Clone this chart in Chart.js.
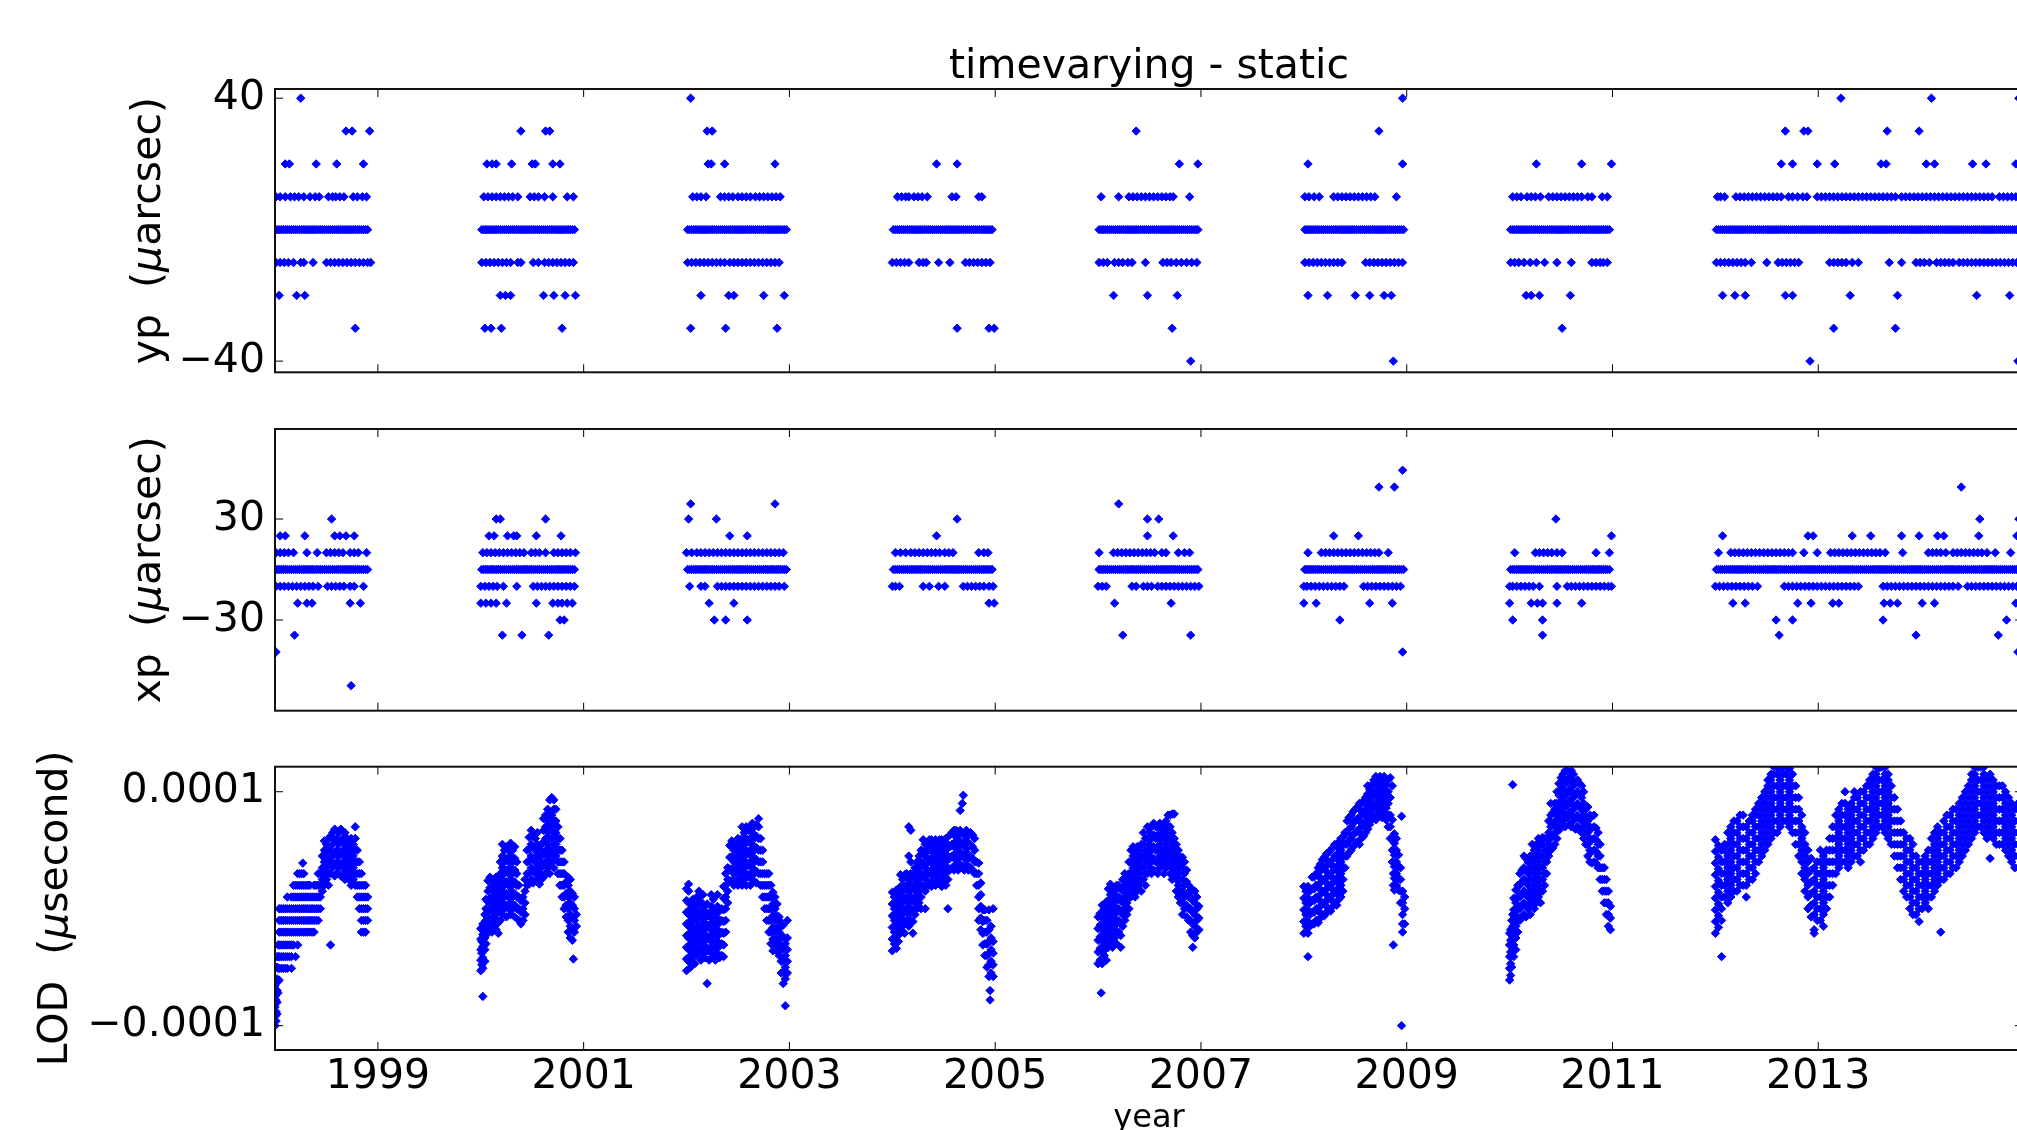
<!DOCTYPE html>
<html><head><meta charset="utf-8">
<script src="https://cdn.jsdelivr.net/npm/chart.js@4.4.1/dist/chart.umd.min.js"></script>
<style>
html,body{margin:0;padding:0;background:#fff;overflow:hidden;width:2017px;height:1130px;}
#wrap{position:relative;width:2017px;height:1130px;overflow:hidden;background:#fff;}
canvas{position:absolute;left:0;}
</style></head><body>
<div id="wrap">
<canvas id="cYp" width="2298" height="400" style="top:0px"></canvas>
<canvas id="cXp" width="2298" height="330" style="top:400px"></canvas>
<canvas id="cLod" width="2298" height="420" style="top:730px"></canvas>
</div>
<script>
// ---------------- DATA ----------------
const yearTicks = [1999, 2001, 2003, 2005, 2007, 2009, 2011, 2013];
const ypTicks = [-40, 40];
const xpTicks = [-30, 30];
const lodTicks = [-0.0001, 0.0001];

// observation epochs where yp and xp differences are 0 (the solid bars)
const zeroEpochs = [
1998.00,1998.02,1998.04,1998.06,1998.08,1998.10,1998.12,1998.14,1998.16,1998.18,1998.20,1998.22,1998.24,1998.26,1998.28,1998.30,1998.32,1998.34,1998.36,1998.38,1998.40,1998.42,1998.44,1998.46,1998.48,1998.50,1998.52,1998.54,1998.56,1998.58,1998.60,1998.62,1998.64,1998.66,1998.68,1998.70,1998.72,1998.74,1998.76,1998.78,1998.80,1998.82,1998.84,1998.86,1998.88,1998.90,
2000.01,2000.03,2000.05,2000.07,2000.09,2000.11,2000.13,2000.15,2000.17,2000.19,2000.21,2000.23,2000.25,2000.27,2000.29,2000.31,2000.33,2000.35,2000.37,2000.39,2000.41,2000.43,2000.45,2000.47,2000.49,2000.51,2000.53,2000.55,2000.57,2000.59,2000.61,2000.63,2000.65,2000.67,2000.69,2000.71,2000.73,2000.75,2000.77,2000.79,2000.81,2000.83,2000.85,2000.87,2000.89,2000.91,
2002.01,2002.03,2002.05,2002.07,2002.09,2002.11,2002.13,2002.15,2002.17,2002.19,2002.21,2002.23,2002.25,2002.27,2002.29,2002.31,2002.33,2002.35,2002.37,2002.39,2002.41,2002.43,2002.45,2002.47,2002.49,2002.51,2002.53,2002.55,2002.57,2002.59,2002.61,2002.63,2002.65,2002.67,2002.69,2002.71,2002.73,2002.75,2002.77,2002.79,2002.81,2002.83,2002.85,2002.87,2002.89,2002.91,2002.93,2002.95,2002.97,
2004.01,2004.03,2004.05,2004.07,2004.09,2004.11,2004.13,2004.15,2004.17,2004.19,2004.21,2004.23,2004.25,2004.27,2004.29,2004.31,2004.33,2004.35,2004.37,2004.39,2004.41,2004.43,2004.45,2004.47,2004.49,2004.51,2004.53,2004.55,2004.57,2004.59,2004.61,2004.63,2004.65,2004.67,2004.69,2004.71,2004.73,2004.75,2004.77,2004.79,2004.81,2004.83,2004.85,2004.87,2004.89,2004.91,2004.93,2004.95,2004.97,
2006.01,2006.03,2006.05,2006.07,2006.09,2006.11,2006.13,2006.15,2006.17,2006.19,2006.21,2006.23,2006.25,2006.27,2006.29,2006.31,2006.33,2006.35,2006.37,2006.39,2006.41,2006.43,2006.45,2006.47,2006.49,2006.51,2006.53,2006.55,2006.57,2006.59,2006.61,2006.63,2006.65,2006.67,2006.69,2006.71,2006.73,2006.75,2006.77,2006.79,2006.81,2006.83,2006.85,2006.87,2006.89,2006.91,2006.93,2006.95,2006.97,
2008.01,2008.03,2008.05,2008.07,2008.09,2008.11,2008.13,2008.15,2008.17,2008.19,2008.21,2008.23,2008.25,2008.27,2008.29,2008.31,2008.33,2008.35,2008.37,2008.39,2008.41,2008.43,2008.45,2008.47,2008.49,2008.51,2008.53,2008.55,2008.57,2008.59,2008.61,2008.63,2008.65,2008.67,2008.69,2008.71,2008.73,2008.75,2008.77,2008.79,2008.81,2008.83,2008.85,2008.87,2008.89,2008.91,2008.93,2008.95,2008.97,
2010.01,2010.03,2010.05,2010.07,2010.09,2010.11,2010.13,2010.15,2010.17,2010.19,2010.21,2010.23,2010.25,2010.27,2010.29,2010.31,2010.33,2010.35,2010.37,2010.39,2010.41,2010.43,2010.45,2010.47,2010.49,2010.51,2010.53,2010.55,2010.57,2010.59,2010.61,2010.63,2010.65,2010.67,2010.69,2010.71,2010.73,2010.75,2010.77,2010.79,2010.81,2010.83,2010.85,2010.87,2010.89,2010.91,2010.93,2010.95,2010.97,
2012.01,2012.03,2012.05,2012.07,2012.09,2012.11,2012.13,2012.15,2012.17,2012.19,2012.21,2012.23,2012.25,2012.27,2012.29,2012.31,2012.33,2012.35,2012.37,2012.39,2012.41,2012.43,2012.45,2012.47,2012.49,2012.51,2012.53,2012.55,2012.57,2012.59,2012.61,2012.63,2012.65,2012.67,2012.69,2012.71,2012.73,2012.75,2012.77,2012.79,2012.81,2012.83,2012.85,2012.87,2012.89,2012.91,2012.93,2012.95,2012.97,2012.99,
2013.01,2013.03,2013.05,2013.07,2013.09,2013.11,2013.13,2013.15,2013.17,2013.19,2013.21,2013.23,2013.25,2013.27,2013.29,2013.31,2013.33,2013.35,2013.37,2013.39,2013.41,2013.43,2013.45,2013.47,2013.49,2013.51,2013.53,2013.55,2013.57,2013.59,2013.61,2013.63,2013.65,2013.67,2013.69,2013.71,2013.73,2013.75,2013.77,2013.79,2013.81,2013.83,2013.85,2013.87,2013.89,2013.91,2013.93,2013.95,2013.97,2013.99,
2014.01,2014.03,2014.05,2014.07,2014.09,2014.11,2014.13,2014.15,2014.17,2014.19,2014.21,2014.23,2014.25,2014.27,2014.29,2014.31,2014.33,2014.35,2014.37,2014.39,2014.41,2014.43,2014.45,2014.47,2014.49,2014.51,2014.53,2014.55,2014.57,2014.59,2014.61,2014.63,2014.65,2014.67,2014.69,2014.71,2014.73,2014.75,2014.77,2014.79,2014.81,2014.83,2014.85,2014.87,2014.89,2014.91,2014.93,2014.95,2014.97,2014.99
];

// yp (µarcsec): epochs of the non-zero levels
const yp40 = [1998.25,2002.04,2008.96,2013.22,2014.10,2014.95];
const yp30 = [1998.69,1998.75,1998.92,2000.39,2000.63,2000.67,2002.20,2002.25,2006.37,2008.73,2012.68,2012.86,2012.90,2013.67,2013.98];
const yp20 = [1998.10,1998.14,1998.40,1998.60,1998.86,2000.06,2000.11,2000.15,2000.30,2000.50,2000.53,2000.70,2000.77,2002.21,2002.24,2002.37,2002.86,2004.43,2004.63,2006.79,2006.97,2008.04,2008.96,2010.26,2010.70,2010.99,2012.64,2012.75,2012.99,2013.16,2013.61,2013.66,2014.05,2014.13,2014.50,2014.63,2014.92];
const yp10 = [
1998.01,1998.05,1998.10,1998.15,1998.19,1998.23,1998.28,1998.34,1998.39,1998.43,1998.52,1998.56,1998.59,1998.63,1998.67,1998.76,1998.80,1998.85,1998.89,
2000.03,2000.07,2000.11,2000.15,2000.19,2000.23,2000.27,2000.31,2000.36,2000.48,2000.52,2000.56,2000.62,2000.70,2000.84,2000.90,
2002.06,2002.10,2002.14,2002.19,2002.33,2002.37,2002.41,2002.45,2002.50,2002.54,2002.58,2002.62,2002.67,2002.71,2002.75,2002.79,2002.83,2002.87,2002.91,
2004.05,2004.09,2004.13,2004.16,2004.21,2004.25,2004.29,2004.34,2004.58,2004.62,2004.84,2004.87,
2006.03,2006.20,2006.30,2006.34,2006.38,2006.42,2006.46,2006.50,2006.54,2006.58,2006.62,2006.66,2006.70,2006.73,2006.89,
2008.01,2008.05,2008.10,2008.15,2008.29,2008.33,2008.37,2008.41,2008.45,2008.49,2008.53,2008.57,2008.61,2008.65,2008.69,2008.90,
2010.03,2010.07,2010.11,2010.17,2010.21,2010.25,2010.30,2010.38,2010.42,2010.46,2010.50,2010.54,2010.58,2010.62,2010.66,2010.70,2010.76,2010.80,2010.90,2010.95,
2012.02,2012.05,2012.09,2012.20,2012.24,2012.28,2012.32,2012.36,2012.40,2012.44,2012.48,2012.52,2012.56,2012.60,2012.64,2012.71,2012.75,2012.80,2012.85,2012.89,2012.99,
2013.03,2013.07,2013.11,2013.15,2013.19,2013.23,2013.27,2013.31,2013.35,2013.39,2013.43,2013.47,2013.51,2013.55,2013.59,2013.63,2013.67,2013.71,2013.75,2013.81,2013.85,2013.89,2013.93,2013.97,
2014.01,2014.05,2014.09,2014.13,2014.17,2014.21,2014.25,2014.29,2014.33,2014.37,2014.41,2014.45,2014.49,2014.53,2014.57,2014.61,2014.65,2014.69,2014.76,2014.80,2014.84,2014.88,2014.92,2014.96
];
const ypM10 = [
1998.01,1998.05,1998.09,1998.13,1998.18,1998.25,1998.28,1998.37,1998.50,1998.54,1998.58,1998.62,1998.66,1998.70,1998.74,1998.78,1998.82,1998.86,1998.90,1998.93,
2000.01,2000.05,2000.09,2000.13,2000.17,2000.21,2000.25,2000.29,2000.36,2000.39,2000.51,2000.56,2000.62,2000.66,2000.70,2000.74,2000.78,2000.82,2000.86,2000.90,
2002.01,2002.05,2002.09,2002.13,2002.17,2002.21,2002.25,2002.29,2002.33,2002.37,2002.42,2002.46,2002.50,2002.54,2002.58,2002.62,2002.66,2002.70,2002.74,2002.78,2002.82,2002.86,2002.90,
2004.00,2004.04,2004.08,2004.12,2004.16,2004.26,2004.30,2004.33,2004.45,2004.56,2004.71,2004.75,2004.79,2004.83,2004.87,2004.91,2004.95,
2006.01,2006.05,2006.09,2006.16,2006.20,2006.24,2006.29,2006.33,2006.46,2006.63,2006.67,2006.71,2006.76,2006.81,2006.86,2006.91,2006.96,
2008.01,2008.05,2008.09,2008.13,2008.17,2008.21,2008.25,2008.29,2008.33,2008.37,2008.60,2008.64,2008.68,2008.72,2008.76,2008.80,2008.84,2008.88,2008.92,2008.96,
2010.01,2010.05,2010.09,2010.14,2010.20,2010.26,2010.34,2010.46,2010.60,2010.80,2010.84,2010.88,2010.91,2010.95,
2012.01,2012.05,2012.09,2012.13,2012.17,2012.21,2012.25,2012.29,2012.35,2012.50,2012.61,2012.65,2012.69,2012.73,2012.77,2012.81,
2013.11,2013.15,2013.19,2013.23,2013.27,2013.33,2013.39,2013.69,2013.81,2013.95,2013.99,
2014.03,2014.08,2014.15,2014.19,2014.23,2014.27,2014.31,2014.37,2014.41,2014.45,2014.49,2014.53,2014.57,2014.61,2014.65,2014.69,2014.73,2014.77,2014.81,2014.85,2014.89,2014.93
];
const ypM20 = [1998.04,1998.21,1998.29,2000.19,2000.24,2000.29,2000.61,2000.71,2000.82,2000.92,2002.14,2002.41,2002.46,2002.75,2002.95,2006.15,2006.48,2006.77,2008.04,2008.23,2008.50,2008.64,2008.78,2008.85,2010.16,2010.21,2010.29,2010.59,2012.07,2012.19,2012.29,2012.68,2012.75,2013.31,2013.77,2014.54,2014.86];
const ypM30 = [1998.78,2000.04,2000.10,2000.20,2000.79,2002.04,2002.38,2002.88,2004.63,2004.94,2004.99,2006.72,2010.51,2013.15,2013.75];
const ypM40 = [2006.90,2008.87,2012.92,2014.94];

// xp (µarcsec): epochs of the non-zero levels
const xp59 = [2008.96];
const xp49 = [2008.73,2008.88,2014.39];
const xp39 = [2002.04,2002.86,2006.20];
const xp30 = [1998.55,2000.15,2000.19,2000.63,2002.02,2002.29,2004.63,2006.48,2006.59,2010.45,2014.57,2014.95];
const xp20 = [1998.05,1998.10,1998.29,1998.58,1998.63,1998.69,1998.77,2000.08,2000.13,2000.26,2000.32,2000.35,2000.54,2000.78,2002.42,2002.59,2004.43,2006.48,2006.73,2008.29,2008.53,2010.99,2012.07,2012.90,2012.95,2013.33,2013.51,2013.81,2013.98,2014.16,2014.22,2014.56,2014.93];
const xp10 = [
1998.01,1998.05,1998.09,1998.13,1998.18,1998.31,1998.41,1998.50,1998.54,1998.58,1998.62,1998.66,1998.73,1998.77,1998.81,1998.89,
2000.02,2000.06,2000.10,2000.14,2000.18,2000.22,2000.26,2000.30,2000.34,2000.38,2000.42,2000.49,2000.53,2000.57,2000.63,2000.71,2000.75,2000.79,2000.83,2000.87,2000.92,
2002.00,2002.05,2002.10,2002.14,2002.18,2002.22,2002.26,2002.30,2002.34,2002.38,2002.42,2002.46,2002.50,2002.54,2002.58,2002.62,2002.66,2002.70,2002.74,2002.78,2002.82,2002.86,2002.90,2002.94,
2004.03,2004.08,2004.13,2004.18,2004.22,2004.26,2004.30,2004.34,2004.38,2004.42,2004.46,2004.51,2004.55,2004.59,2004.84,2004.89,2004.93,
2006.01,2006.15,2006.19,2006.23,2006.27,2006.31,2006.35,2006.39,2006.43,2006.47,2006.51,2006.55,2006.62,2006.66,2006.78,2006.84,2006.89,
2008.04,2008.17,2008.21,2008.25,2008.29,2008.33,2008.37,2008.41,2008.45,2008.49,2008.53,2008.57,2008.61,2008.65,2008.69,2008.73,2008.82,
2010.05,2010.25,2010.29,2010.33,2010.37,2010.41,2010.46,2010.51,2010.84,2010.97,
2012.03,2012.15,2012.19,2012.23,2012.27,2012.31,2012.35,2012.39,2012.43,2012.47,2012.51,2012.55,2012.59,2012.63,2012.67,2012.71,2012.75,2012.86,2012.99,
2013.12,2013.16,2013.20,2013.24,2013.28,2013.32,2013.36,2013.40,2013.44,2013.48,2013.52,2013.56,2013.60,2013.65,2013.82,
2014.07,2014.11,2014.15,2014.19,2014.24,2014.31,2014.35,2014.39,2014.43,2014.47,2014.51,2014.55,2014.59,2014.64,2014.72,2014.87
];
const xpM10 = [
1998.01,1998.05,1998.09,1998.13,1998.17,1998.21,1998.25,1998.29,1998.33,1998.37,1998.42,1998.51,1998.55,1998.59,1998.63,1998.67,1998.73,1998.77,1998.86,
2000.00,2000.04,2000.08,2000.12,2000.16,2000.22,2000.35,2000.51,2000.55,2000.59,2000.63,2000.67,2000.71,2000.75,2000.79,2000.83,2000.87,2000.91,
2002.03,2002.14,2002.18,2002.30,2002.34,2002.38,2002.42,2002.46,2002.50,2002.54,2002.58,2002.62,2002.66,2002.70,2002.74,2002.78,2002.82,2002.86,2002.90,2002.95,
2004.00,2004.03,2004.07,2004.30,2004.36,2004.45,2004.51,2004.69,2004.73,2004.77,2004.81,2004.85,2004.89,2004.94,2004.98,
2006.00,2006.04,2006.08,2006.33,2006.37,2006.44,2006.48,2006.52,2006.58,2006.62,2006.66,2006.70,2006.74,2006.78,2006.82,2006.86,2006.90,2006.94,2006.98,
2008.00,2008.03,2008.07,2008.11,2008.15,2008.19,2008.23,2008.27,2008.31,2008.35,2008.39,2008.58,2008.62,2008.66,2008.70,2008.74,2008.78,2008.82,2008.86,2008.90,2008.94,
2010.00,2010.03,2010.07,2010.11,2010.15,2010.19,2010.23,2010.29,2010.46,2010.56,2010.60,2010.64,2010.68,2010.72,2010.76,2010.80,2010.84,2010.88,2010.92,2010.96,2010.99,
2012.00,2012.04,2012.08,2012.12,2012.16,2012.20,2012.24,2012.28,2012.32,2012.36,2012.41,2012.67,2012.71,2012.75,2012.79,2012.83,2012.87,2012.91,2012.95,2012.99,
2013.03,2013.07,2013.11,2013.15,2013.19,2013.23,2013.27,2013.31,2013.35,2013.39,2013.63,2013.67,2013.71,2013.75,2013.79,2013.83,2013.87,2013.91,2013.95,2013.99,
2014.03,2014.07,2014.11,2014.15,2014.19,2014.23,2014.27,2014.31,2014.36,2014.45,2014.49,2014.53,2014.57,2014.61,2014.65,2014.69,2014.73,2014.77,2014.81,2014.85,2014.89,2014.93
];
const xpM20 = [1998.22,1998.31,1998.36,1998.73,1998.83,2000.00,2000.05,2000.10,2000.15,2000.25,2000.54,2000.70,2000.75,2000.79,2000.84,2000.89,2002.22,2002.46,2004.94,2004.99,2006.16,2006.71,2008.00,2008.12,2008.64,2008.86,2010.00,2010.21,2010.27,2010.32,2010.46,2010.70,2012.17,2012.29,2012.80,2012.93,2013.14,2013.20,2013.64,2013.70,2013.77,2014.01,2014.13,2014.92];
const xpM30 = [2000.77,2000.81,2002.27,2002.38,2002.59,2008.35,2010.03,2010.32,2012.59,2012.75,2013.63,2014.83];
const xpM39 = [1998.19,2000.21,2000.40,2000.66,2006.24,2006.90,2010.32,2012.62,2013.95,2014.75];
const xpM49 = [1998.01,2008.96,2014.94];
const xpM69 = [1998.74];

const ypLevels = [0, 40, 30, 20, 10, -10, -20, -30, -40];
const ypSeries = [zeroEpochs, yp40, yp30, yp20, yp10, ypM10, ypM20, ypM30, ypM40];
const xpLevels = [0, 59, 49, 39, 30, 20, 10, -10, -20, -30, -39, -49, -69];
const xpSeries = [zeroEpochs, xp59, xp49, xp39, xp30, xp20, xp10, xpM10, xpM20, xpM30, xpM39, xpM49, xpM69];

// LOD, in units of 1e-6 s: each row = [epoch, values observed around that epoch...]
const lod1998 = [
[1998.00,-100,-92,-84,-75,-66],[1998.01,-96,-88,-78,-70,-62],[1998.02,-90,-80,-70,-60,-50,-41],[1998.03,-72,-62,-51,-41,-31],
[1998.04,-61,-51,-41,-31,-20,-10,0],[1998.06,-51,-41,-31,-20,-10,0],[1998.08,-51,-41,-31,-20,-10,0],[1998.10,-51,-41,-31,-20,-10,0],
[1998.12,-51,-41,-31,-20,-10,0,10],[1998.14,-41,-31,-20,-10,0],[1998.16,-51,-41,-31,-20,-10,0,10],[1998.18,-31,-20,-10,0,10,20],
[1998.20,-41,-20,-10,0,10,20],[1998.22,-31,-20,-10,0,10,20,30],[1998.24,-20,-10,0,10,20,30],[1998.26,-20,-10,0,10,20,30],
[1998.27,39],[1998.28,-20,-10,0,10,20,30],[1998.30,-20,-10,0,10,20],[1998.32,-20,-10,0,10,20],
[1998.34,-20,-10,0,10,20],[1998.36,-20,-10,0,10],[1998.38,-20,-10,0,10,20],[1998.40,-10,0,10,20],
[1998.42,-10,0,10,20,30],[1998.44,0,10,20,30],[1998.46,15,25,35,45],[1998.48,20,30,40,50,58],
[1998.50,25,35,45,55],[1998.52,20,30,40,50,60],[1998.54,-31,30,40,50,62],[1998.56,35,45,55,65],
[1998.58,28,38,48,58,68],[1998.60,30,40,50,60],[1998.62,35,45,55,65],[1998.64,28,38,48,58,68],
[1998.66,30,40,50,60],[1998.68,25,35,45,55,65],[1998.70,30,40,50,60],[1998.72,25,35,45,55],
[1998.74,20,30,40,50,60],[1998.76,25,35,45,55],[1998.78,20,30,40,50,60,70],[1998.80,10,20,30,40,50],
[1998.82,0,10,20,30,40],[1998.84,-20,-10,0,10,20,30],[1998.86,-20,-10,0,10,20],[1998.88,-20,-10,0,10,20],
[1998.90,-10,0,10]
];
const lod2000 = [
[2000.00,-53,-44,-35,-26,-17],[2000.01,-48,-38,-28,-18],[2000.02,-75,-51,-42,-32,-22,-13],[2000.04,-45,-35,-25,-15,-5],
[2000.05,-30,-20,-10,0,8],[2000.07,-21,-12,-3,6,15,24],[2000.09,-18,-9,0,9,18,27],[2000.11,-20,-11,-2,7,16,25],
[2000.13,-15,-6,3,12,21],[2000.15,-18,-9,0,9,18,27],[2000.17,-21,-12,-3,6,15,24],[2000.19,-10,0,10,20,30,40],
[2000.21,-5,5,15,25,35,45,55],[2000.23,0,10,20,30,40,50],[2000.25,-7,3,13,23,33,43,53],[2000.27,0,10,20,30,40,50],
[2000.29,-5,5,15,25,35,45,56],[2000.31,0,10,20,30,40,50],[2000.33,-7,3,13,23,33,43,53],[2000.35,0,10,20,30,40],
[2000.37,-10,0,10,20],[2000.39,-13,-3,7],[2000.41,-10,0,10],[2000.43,-5,5,15,25],
[2000.45,20,30,40,50],[2000.47,21,31,41,51,61],[2000.49,25,35,45,55,67],[2000.51,22,32,42,52,62],
[2000.53,30,40,50,60],[2000.55,25,35,45,55,65],[2000.57,21,31,41,51],[2000.59,25,35,45,55],
[2000.61,27,37,47,57,67,77],[2000.63,30,40,50,60,70,80],[2000.65,35,45,55,65,75,85],[2000.67,30,40,50,60,70,80,93],
[2000.69,40,50,60,70,80,95],[2000.71,35,45,55,65,75,85,93],[2000.73,45,55,65,75,85],[2000.75,30,40,50,60,70],
[2000.77,20,30,40,50,60],[2000.79,10,20,30,40,50],[2000.81,0,10,20,30,40],[2000.83,-7,3,13,23],
[2000.85,-20,-10,0,10,20,27],[2000.87,-25,-15,-5,5,15,25],[2000.89,-27,-17,-7,3,13],[2000.90,-43],
[2000.91,-20,-10,0,10],[2000.93,-15,-5]
];
const lod2002 = [
[2002.00,-53,-43,-33,-23,-13,-3,7,17],[2002.02,-45,-35,-25,-15,-5,5,15,21],[2002.04,-50,-40,-30,-20,-10,0],[2002.06,-42,-32,-22,-12,-2,8],
[2002.08,-47,-37,-27,-17,-7,3],[2002.10,-40,-30,-20,-10,0,10],[2002.12,-35,-25,-15,-5,5,15],[2002.14,-44,-34,-24,-14,-4,6],
[2002.16,-38,-28,-18,-8,2,12],[2002.18,-42,-32,-22,-12,-2],[2002.20,-64,-36,-26,-16,-6,4],[2002.22,-44,-34,-24,-14,-4],
[2002.24,-38,-28,-18,-8,2,12],[2002.26,-42,-32,-22,-12,-2,8],[2002.28,-44,-34,-24,-14,-4],[2002.30,-38,-28,-18,-8,2,12],
[2002.32,-42,-32,-22,-12,-2],[2002.34,-40,-30,-20,-10,0],[2002.36,-41,-31,-21,-11,-1,9,19],[2002.38,-20,-10,0,10,20,30],
[2002.40,5,15,25,35],[2002.42,24,34,44,54],[2002.44,24,34,44,54,58],[2002.46,20,30,40,50],
[2002.48,24,34,44,54],[2002.50,20,30,40,50,60],[2002.52,25,35,45,55],[2002.54,20,30,40,50,60,70],
[2002.56,25,35,45,55,65],[2002.58,20,30,40,50,60,70],[2002.60,27,37,47,57,67],[2002.62,20,30,40,50,60,70],
[2002.64,25,35,45,55,65,73],[2002.66,30,40,50,60,70],[2002.68,22,32,42,52,62,72],[2002.70,30,40,50,60,70,77],
[2002.72,20,30,40,50,60],[2002.74,10,20,30,40,50],[2002.76,0,10,20,30],[2002.78,-10,0,10,20,30],
[2002.80,-20,-10,0,10,20,30],[2002.82,-30,-20,-10,0,10,20],[2002.84,-36,-26,-16,-6,4,14],[2002.86,-30,-20,-10,0,10],
[2002.88,-36,-26,-16,-6,4],[2002.90,-40,-30,-20,-10,-7],[2002.92,-55,-45,-35,-25,-15],[2002.94,-64,-54,-44,-34,-24,-14],
[2002.96,-83,-60,-50,-40,-30],[2002.98,-55,-45,-35,-25,-10]
];
const lod2004 = [
[2004.00,-36,-26,-16,-6,4,14],[2004.02,-30,-20,-10,0,10],[2004.04,-34,-24,-14,-4,6,16],[2004.06,-28,-18,-8,2,12],
[2004.08,-21,-11,-1,9,19,29],[2004.10,-15,-5,5,15,25],[2004.12,-21,-11,-1,9,19,29],[2004.14,-10,0,10,20,30],
[2004.16,-15,-5,5,15,25,45,70],[2004.18,-10,0,10,20,30,40,67],[2004.20,-21,-11,-1,9,19,29],[2004.22,-5,5,15,25,35],
[2004.24,0,10,20,30,40],[2004.26,5,15,25,35,45],[2004.28,0,10,20,30,40,50],[2004.30,19,29,39,49,59],
[2004.32,0,15,25,35,45,55],[2004.34,19,29,39,49],[2004.36,22,32,42,52,59],[2004.38,19,29,39,49,59],
[2004.40,25,35,45,55],[2004.42,20,30,40,50,59],[2004.44,25,35,45,55],[2004.46,22,32,42,52,59],
[2004.48,19,29,39,49,59],[2004.50,25,35,45,55],[2004.52,20,30,40,50,60],[2004.54,0,25,35,45,55],
[2004.56,33,43,53,63],[2004.58,35,45,55,65],[2004.60,33,43,53,63,67],[2004.62,38,48,58,67],
[2004.64,33,43,53,63],[2004.66,38,48,58,67,84],[2004.68,35,45,55,65,90],[2004.69,97],
[2004.70,33,43,53,63],[2004.72,38,48,58,67],[2004.74,33,43,53,63],[2004.76,35,45,55,65],
[2004.78,33,43,53,63],[2004.80,30,40,50,60],[2004.82,20,30,40],[2004.84,-10,0,10,20,30,39],
[2004.86,-18,-8,2,12,22],[2004.88,-31,-21,-11,-1],[2004.90,-40,-30,-20,-10,-1],[2004.92,-50,-40,-30,-20,-10],
[2004.94,-58,-48,-38,-28,-18,-1],[2004.95,-78,-70],[2004.96,-55,-45,-35,-25,-15],[2004.98,-58,-48,-38,-28,0]
];
const lod2006 = [
[2006.00,-47,-37,-27,-17,-7],[2006.02,-44,-34,-24,-14,-4],[2006.03,-72],[2006.04,-47,-37,-27,-17,-7,3],
[2006.06,-40,-30,-20,-10,0],[2006.08,-44,-34,-24,-14,-4,6],[2006.10,-33,-23,-13,-3,7,17],[2006.12,-28,-18,-8,2,12,21],
[2006.14,-33,-23,-13,-3,7,17],[2006.16,-25,-15,-5,5,15],[2006.18,-30,-20,-10,0,10,20],[2006.20,-20,-10,0,10,20],
[2006.22,-33,-23,-13,-3,7,17],[2006.24,-15,-5,5,15,25],[2006.26,-10,0,10,20,30],[2006.28,-5,5,15,25],
[2006.30,0,10,20,30,40],[2006.32,10,20,30,40,50],[2006.34,15,25,35,45,53],[2006.36,10,20,30,40,50],
[2006.38,15,25,35,45,53],[2006.40,20,30,40,50],[2006.42,15,25,35,45,55],[2006.44,25,35,45,55,65],
[2006.46,20,30,40,50,60],[2006.48,30,40,50,60,70],[2006.50,35,45,55,65],[2006.52,30,40,50,60,70],
[2006.54,33,43,53,63,73],[2006.56,40,50,60,70],[2006.58,30,40,50,60,70],[2006.60,35,45,55,65,73],
[2006.62,40,50,60,70],[2006.64,30,40,50,60,70],[2006.66,35,45,55,65,75],[2006.68,40,50,60,70,80],
[2006.70,30,40,50,60,70,80],[2006.72,25,35,45,55,65,81],[2006.74,30,40,50,60,81],[2006.76,15,25,35,45,55],
[2006.78,10,20,30,40,50],[2006.80,5,15,25,35,44],[2006.82,-5,5,15,25,35,44],[2006.84,0,10,20,30,40],
[2006.86,-7,3,13,23,33],[2006.88,-10,0,10,20],[2006.90,-20,-10,0,10,16],[2006.92,-33,-23,-13,-3,7,16],
[2006.94,-25,-15,-5,5,15],[2006.96,-20,-10,0,10],[2006.98,-18,-8,2]
];
const lod2008 = [
[2008.00,-21,-11,-1,9,19],[2008.02,-15,-5,5,15],[2008.04,-41,-21,-11,-1,9,19],[2008.06,-15,-5,5,15],
[2008.08,-13,-3,7,17,27],[2008.10,-13,-3,7,17,27],[2008.12,-10,0,10,20,30],[2008.14,-12,-2,8,18,28,35],
[2008.16,-8,2,12,22,32,38],[2008.18,-5,5,15,25,35,42],[2008.20,-6,4,14,24,34,44],[2008.22,-3,7,17,27,37,47],
[2008.24,0,10,20,30,40,48],[2008.26,-2,8,18,28,38,50],[2008.28,2,12,22,32,42,52],[2008.30,5,15,25,35,45,55],
[2008.32,3,13,23,33,43,53],[2008.34,8,18,28,38,48,57],[2008.36,10,20,30,40,50,60],[2008.38,15,25,35,45,55,61],
[2008.40,35,45,55,65],[2008.42,45,55,65,75],[2008.44,48,58,68,78],[2008.46,50,60,70,80],
[2008.48,53,63,73,83],[2008.50,55,65,75,85],[2008.52,57,67,77,87],[2008.54,55,65,75,85,90],
[2008.56,60,70,80,90],[2008.58,62,72,82,92],[2008.60,65,75,85,95],[2008.62,68,78,88,98,105],
[2008.64,72,82,92,102],[2008.66,76,86,96,106],[2008.68,80,90,100,110],[2008.70,76,86,96,106,113],
[2008.72,80,90,100,110],[2008.74,84,94,104,113],[2008.76,78,88,98,108],[2008.78,82,92,102,113],
[2008.80,76,86,96,106],[2008.82,70,80,90,100,110],[2008.84,60,70,80,95,112],[2008.86,40,50,60,76,105],
[2008.87,-31,20,30],[2008.88,16,26,36,46,56,64],[2008.90,20,30,40,50,60],[2008.92,16,26,36,46],
[2008.94,5,15,25,35],[2008.95,-100,79],[2008.96,-20,-13,-5,5,15],[2008.98,-13,0,10]
];
const lod2010 = [
[2010.00,-61,-51,-41,-31,-21],[2010.01,-57,-47,-37,-27,-18],[2010.02,-50,-40,-30,-20,-10],[2010.03,106,-35,-25,-15,-5],
[2010.04,-41,-31,-21,-11,-1,9],[2010.06,-35,-25,-15,-5,5,16],[2010.08,-20,-10,0,10,20],[2010.10,-10,0,10,20,30],
[2010.12,-7,3,13,23,33],[2010.14,-5,5,15,25,35,45],[2010.16,-7,3,13,23,33,43],[2010.18,0,10,20,30,40],
[2010.20,-5,5,15,25,35,45],[2010.22,5,15,25,35,45,55],[2010.24,0,10,20,30,40,50],[2010.26,5,15,25,35,45,55],
[2010.28,10,20,30,40,50,60],[2010.30,5,15,25,35,45,55],[2010.32,15,25,35,45,55,61],[2010.34,20,30,40,50,60],
[2010.36,30,40,50,60],[2010.38,45,55,65,75],[2010.40,50,60,70,80,90],[2010.42,52,62,72,82],
[2010.44,55,65,75,85,90],[2010.46,60,70,80,90,100],[2010.48,67,77,87,97,107],[2010.50,72,82,92,102,112],
[2010.52,75,85,95,105,115],[2010.54,70,80,90,100,110,118],[2010.56,78,88,98,108,118],[2010.58,72,82,92,102,112],
[2010.60,70,80,90,100,110,118],[2010.62,75,85,95,105,115],[2010.64,68,78,88,98,108],[2010.66,70,80,90,100,110],
[2010.68,67,77,87,97,107],[2010.70,65,75,85,95,105],[2010.72,60,70,80,90,100],[2010.74,55,65,75,85],
[2010.76,45,55,65,75,87],[2010.78,40,50,60,70,80],[2010.80,39,49,59,69,79],[2010.82,40,50,60,70,80],
[2010.84,39,49,59,69],[2010.86,35,45,55,65],[2010.88,25,35,45,55],[2010.90,15,25,35],
[2010.92,5,15,25,35],[2010.94,-5,5,15,25],[2010.96,-15,-5,5,15],[2010.98,-18,-8,2]
];
const lod2012 = [
[2012.00,-21,-11,-1,9,19,29,39,49,59],[2012.03,-16,-6,4,14,24,34,44,54],[2012.06,-41,-10,0,10,20,30,40,50],[2012.09,10,20,30,40,50,55],
[2012.12,5,15,25,35,45,55,65],[2012.15,10,20,30,40,50,60,70],[2012.18,15,25,35,45,55,65,75],[2012.21,15,25,35,45,55,65,75],
[2012.24,20,30,40,50,60,70,80],[2012.27,20,30,40,50,60,70,80],[2012.30,10,20,30,40,50,60,70],[2012.33,25,35,45,55,65,75],
[2012.36,25,35,45,55,65,75,80],[2012.39,30,40,50,60,70,80,85],[2012.42,40,50,60,70,80,90],[2012.45,45,55,65,75,85,95],
[2012.48,50,60,70,80,90,100],[2012.51,55,65,75,85,95,105,110],[2012.54,60,70,80,90,100,110,115],[2012.57,65,75,85,95,105,115,121],
[2012.60,65,75,85,95,105,115,121],[2012.63,70,80,90,100,110,120],[2012.66,75,85,95,105,115,121],[2012.69,75,85,95,105,115,121],
[2012.72,70,80,90,100,110,120],[2012.75,65,75,85,95,105,115],[2012.78,55,65,75,85,95,105],[2012.81,45,55,65,75,85,95],
[2012.84,30,40,50,60,70,80],[2012.87,15,25,35,45,55,65],[2012.90,0,10,20,30,40,50],[2012.93,-7,3,13,23,33,43],
[2012.96,-21,-18,-5,5,15,25,35],[2012.99,-10,0,10,20,30,40],[2013.02,-10,0,10,20,30,40,50],[2013.05,-15,-5,5,15,25,35,45],
[2013.08,0,10,20,30,40,50],[2013.11,10,20,30,40,50,60],[2013.14,20,30,40,50,60,70],[2013.17,30,40,50,60,70,80],
[2013.20,35,45,55,65,75,85],[2013.23,40,50,60,70,80,90],[2013.26,40,50,60,70,80,90,100],[2013.29,35,45,55,65,75,85],
[2013.32,40,50,60,70,80,90],[2013.35,45,55,65,75,85,95,100],[2013.38,45,55,65,75,85,95],[2013.41,40,50,60,70,80,90,100],
[2013.44,50,60,70,80,90,100],[2013.47,55,65,75,85,95,105],[2013.50,55,65,75,85,95,105,110],[2013.53,60,70,80,90,100,110,115],
[2013.56,65,75,85,95,105,115,121],[2013.59,70,80,90,100,110,120],[2013.62,70,80,90,100,110,121],[2013.65,65,75,85,95,105,115,121],
[2013.68,60,70,80,90,100,110,115],[2013.71,55,65,75,85,95,105],[2013.74,45,55,65,75,85,95],[2013.77,35,45,55,65,75,85],
[2013.80,25,35,45,55,65,75],[2013.83,15,25,35,45,55,65],[2013.86,10,20,30,40,50,60],[2013.89,0,10,20,30,40,50,60],
[2013.92,-5,5,15,25,35,45,55],[2013.95,-5,5,15,25,35,45],[2013.98,-11,0,10,20,30,40],[2014.01,0,10,20,30,40],
[2014.04,5,15,25,35,45],[2014.07,0,10,20,30,40,50],[2014.10,10,20,30,40,50,60],[2014.13,15,25,35,45,55,65],
[2014.16,20,30,40,50,60,70],[2014.19,-20,25,35,45,55,65],[2014.22,25,35,45,55,65,75],[2014.25,30,40,50,60,70,80],
[2014.28,30,40,50,60,70,80],[2014.31,35,45,55,65,75,85],[2014.34,35,45,55,65,75,85],[2014.37,40,50,60,70,80,90],
[2014.40,45,55,65,75,85,95],[2014.43,50,60,70,80,90,100],[2014.46,55,65,75,85,95,105],[2014.49,60,70,80,90,100,110,115],
[2014.52,65,75,85,95,105,115,121],[2014.55,70,80,90,100,110,121],[2014.58,70,80,90,100,110,121],[2014.61,65,75,85,95,105,115,121],
[2014.64,60,70,80,90,100,110],[2014.67,43,65,75,85,95,105,115],[2014.70,60,70,80,90,100,110],[2014.73,55,65,75,85,95,105],
[2014.76,55,65,75,85,95,105],[2014.79,55,65,75,85,95,105],[2014.82,50,60,70,80,90,100],[2014.85,45,55,65,75,85,95],
[2014.88,40,50,60,70,80,90],[2014.91,35,45,55,65,75,85],[2014.94,35,45,55,65,75,85,90],[2014.97,35,45,55,65,75,85,90]
];
const lodBlocks = [lod1998, lod2000, lod2002, lod2004, lod2006, lod2008, lod2010, lod2012];

// ---------------- CHART ----------------
const FONT = '"DejaVu Sans", "Liberation Sans", sans-serif';
Chart.defaults.font.family = FONT;
Chart.defaults.color = '#000';
const X_MIN = 1998, X_MAX = 2014.99;

function fmtTick(v) { return v < 0 ? '\u2212' + String(-v) : String(v); }
function levelPoints(series, levels) {
  const pts = [];
  series.forEach((ts, i) => ts.forEach(t => pts.push({x: t, y: levels[i]})));
  return pts;
}
function columnPoints(blocks, unit) {
  const pts = [];
  blocks.forEach(b => b.forEach(row => { for (let k = 1; k < row.length; k++) pts.push({x: row[0], y: row[k] * unit}); }));
  return pts;
}

const framePlugin = {
  id: 'mplFrame',
  afterDatasetsDraw(chart) {
    const {ctx, chartArea: a, scales: {x, y}} = chart;
    ctx.save();
    ctx.strokeStyle = '#000';
    ctx.lineWidth = 1;
    ctx.beginPath();
    x.ticks.forEach(t => {
      const px = x.getPixelForValue(t.value);
      ctx.moveTo(px, a.bottom); ctx.lineTo(px, a.bottom - 8);
      ctx.moveTo(px, a.top); ctx.lineTo(px, a.top + 8);
    });
    y.ticks.forEach(t => {
      const py = y.getPixelForValue(t.value);
      ctx.moveTo(a.left, py); ctx.lineTo(a.left + 8, py);
      ctx.moveTo(a.right, py); ctx.lineTo(a.right - 8, py);
    });
    ctx.stroke();
    ctx.lineWidth = 2;
    ctx.strokeStyle = '#111';
    ctx.strokeRect(a.left, a.top, a.right - a.left, a.bottom - a.top);
    ctx.restore();
  }
};

const yLabelPlugin = {
  id: 'mplYLabel',
  afterDraw(chart, args, opts) {
    if (!opts || !opts.parts) return;
    const {ctx, chartArea: a} = chart;
    const fN = `${opts.size}px ${FONT}`;
    const fI = `italic ${opts.size}px ${FONT}`;
    ctx.save();
    ctx.fillStyle = '#000';
    ctx.textBaseline = 'alphabetic';
    ctx.textAlign = 'left';
    let total = 0;
    const widths = opts.parts.map(p => { ctx.font = p[1] ? fI : fN; const w = ctx.measureText(p[0]).width; total += w; return w; });
    ctx.translate(opts.x, (a.top + a.bottom) / 2);
    ctx.rotate(-Math.PI / 2);
    let cx = -total / 2;
    opts.parts.forEach((p, i) => { ctx.font = p[1] ? fI : fN; ctx.fillText(p[0], cx, 0); cx += widths[i]; });
    ctx.restore();
  }
};

function makePanel(id, cfg) {
  return new Chart(document.getElementById(id), {
    type: 'scatter',
    data: {datasets: [{
      data: cfg.points, pointStyle: 'rectRot', pointRadius: 4.2, pointHoverRadius: 4.2,
      pointBorderWidth: 1, pointBackgroundColor: '#0000ff', pointBorderColor: '#0000ff', clip: 0
    }]},
    options: {
      responsive: false, animation: false, events: [],
      layout: {autoPadding: false, padding: {left: 0, right: 0, top: cfg.padTop, bottom: 0}},
      plugins: {
        legend: {display: false}, tooltip: {enabled: false},
        title: cfg.title || {display: false},
        mplYLabel: {parts: cfg.ylabel, x: cfg.ylabelX, size: 41}
      },
      scales: {
        x: {
          type: 'linear', min: X_MIN, max: X_MAX,
          grid: {display: false, drawTicks: false}, border: {display: false},
          ticks: {display: cfg.showX, padding: 2.5, autoSkip: false, maxRotation: 0, minRotation: 0,
                  font: {size: 41}, color: '#000', callback: v => String(v)},
          afterBuildTicks: s => { s.ticks = yearTicks.map(v => ({value: v})); },
          afterFit: s => { s.height = cfg.xHeight; s.paddingLeft = 0; s.paddingRight = 0; },
          title: cfg.xTitle || {display: false}
        },
        y: {
          type: 'linear', position: 'left', min: cfg.yMin, max: cfg.yMax,
          grid: {display: false, drawTicks: false}, border: {display: false},
          ticks: {padding: 10, font: {size: 41}, color: '#000', callback: fmtTick},
          afterBuildTicks: s => { s.ticks = cfg.yTicks.map(v => ({value: v})); },
          afterFit: s => { s.width = 275; s.paddingTop = 0; s.paddingBottom = 0; }
        },
        yRight: {
          type: 'linear', position: 'right', min: cfg.yMin, max: cfg.yMax,
          grid: {display: false, drawTicks: false}, border: {display: false},
          ticks: {display: false},
          afterFit: s => { s.width = 275; s.paddingTop = 0; s.paddingBottom = 0; }
        }
      }
    },
    plugins: [framePlugin, yLabelPlugin]
  });
}

makePanel('cYp', {
  points: levelPoints(ypSeries, ypLevels),
  padTop: 0, xHeight: 27.7, showX: false,
  yMin: -43.4, yMax: 42.8, yTicks: ypTicks,
  ylabel: [['yp  (', 0], ['\u03bc', 1], ['arcsec)', 0]], ylabelX: 159.5,
  title: {display: true, text: 'timevarying - static', color: '#000',
          font: {size: 41, weight: 'normal', lineHeight: 1.0}, padding: {top: 47, bottom: 1}}
});
makePanel('cXp', {
  points: levelPoints(xpSeries, xpLevels),
  padTop: 29, xHeight: 19.3, showX: false,
  yMin: -83.9, yMax: 83.5, yTicks: xpTicks,
  ylabel: [['xp  (', 0], ['\u03bc', 1], ['arcsec)', 0]], ylabelX: 159.5
});
makePanel('cLod', {
  points: columnPoints(lodBlocks, 1e-6),
  padTop: 36.7, xHeight: 100, showX: true,
  yMin: -120.8e-6, yMax: 121.4e-6, yTicks: lodTicks,
  ylabel: [['LOD  (', 0], ['\u03bc', 1], ['second)', 0]], ylabelX: 67,
  xTitle: {display: true, text: 'year', color: '#000', font: {size: 32}, padding: {top: 0, bottom: 12.4}}
});
</script>
</body></html>
